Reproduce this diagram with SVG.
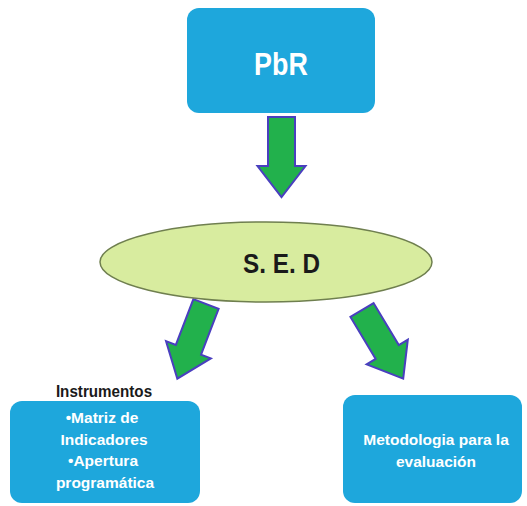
<svg xmlns="http://www.w3.org/2000/svg" width="527" height="506" viewBox="0 0 527 506">
<defs>
<style>
.box{fill:#1ea7dc;}
.wt{fill:#ffffff;font-family:"Liberation Sans",Arial,sans-serif;font-weight:bold;text-anchor:middle;}
.dk{fill:#1a1a1a;font-family:"Liberation Sans",Arial,sans-serif;font-weight:bold;text-anchor:middle;}
.arrow{fill:#22b14c;stroke:#4a3fbf;stroke-width:2;stroke-linejoin:miter;}
</style>
<path id="arr" d="M-13.5,0 L13.5,0 L13.5,49 L24,49 L0,80 L-24,49 L-13.5,49 Z"/>
</defs>
<rect width="527" height="506" fill="#ffffff"/>
<g id="connectors">
<use href="#arr" class="arrow" transform="translate(281.5,117)"/>
<use href="#arr" class="arrow" transform="translate(206,304) rotate(21)"/>
<use href="#arr" class="arrow" transform="translate(362,310) rotate(-31)"/>
</g>
<g id="pbr">
<rect class="box" x="187" y="8" width="188" height="105" rx="12"/>
<text class="wt" font-size="32" transform="translate(281,75) scale(0.84,1)">PbR</text>
</g>
<g id="sed">
<ellipse cx="266" cy="262" rx="166" ry="40" fill="#d8ec9f" stroke="#6f7f4f" stroke-width="1.5"/>
<text class="dk" font-size="27" transform="translate(281.5,273) scale(0.9,1)">S. E. D</text>
</g>
<g id="instrumentos">
<text class="dk" font-size="16" transform="translate(104,397) scale(0.95,1)">Instrumentos</text>
<rect class="box" x="10" y="401" width="190" height="102" rx="12"/>
<text class="wt" x="102" y="423" font-size="15.5">•Matriz de</text>
<text class="wt" x="104" y="445" font-size="15.5">Indicadores</text>
<text class="wt" x="103" y="466" font-size="15.5">•Apertura</text>
<text class="wt" x="105" y="488" font-size="15.5">programática</text>
</g>
<g id="metodologia">
<rect class="box" x="343" y="395" width="179" height="108" rx="12"/>
<text class="wt" x="436" y="445" font-size="15.5">Metodologia para la</text>
<text class="wt" x="436" y="467" font-size="15.5">evaluación</text>
</g>
</svg>
